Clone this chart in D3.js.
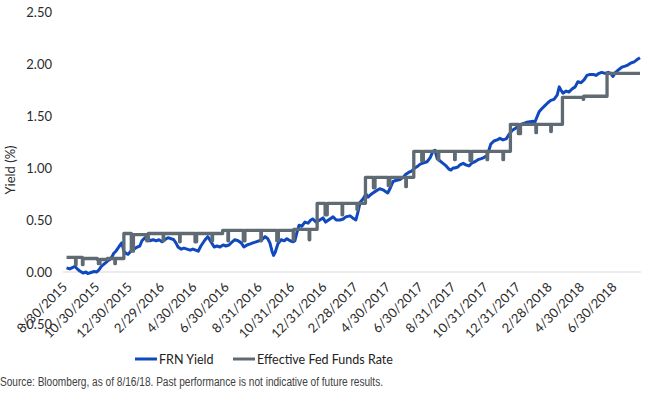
<!DOCTYPE html>
<html><head><meta charset="utf-8">
<script src="https://cdn.jsdelivr.net/npm/d3@7"></script>
<style>body{margin:0;background:#fff} svg{display:block}</style>
</head><body><svg id="c" width="645" height="401"></svg>
<script>
const frnDates = ["2015-08-31","2015-09-06","2015-09-12","2015-09-16","2015-09-20","2015-09-25","2015-10-01","2015-10-07","2015-10-10","2015-10-16","2015-10-22","2015-10-27","2015-10-31","2015-11-04","2015-11-08","2015-11-13","2015-11-17","2015-11-21","2015-11-25","2015-11-28","2015-12-02","2015-12-06","2015-12-10","2015-12-13","2015-12-17","2015-12-21","2015-12-25","2015-12-30","2016-01-05","2016-01-11","2016-01-16","2016-01-20","2016-01-26","2016-01-30","2016-02-04","2016-02-10","2016-02-16","2016-02-21","2016-02-27","2016-03-03","2016-03-09","2016-03-15","2016-03-20","2016-03-24","2016-03-28","2016-04-03","2016-04-08","2016-04-14","2016-04-20","2016-04-25","2016-04-30","2016-05-05","2016-05-10","2016-05-18","2016-05-23","2016-05-29","2016-06-04","2016-06-09","2016-06-15","2016-06-21","2016-06-26","2016-07-02","2016-07-08","2016-07-13","2016-07-19","2016-07-25","2016-07-30","2016-08-05","2016-08-11","2016-08-16","2016-08-22","2016-08-28","2016-09-02","2016-09-08","2016-09-13","2016-09-17","2016-09-21","2016-09-24","2016-09-27","2016-10-02","2016-10-08","2016-10-14","2016-10-19","2016-10-25","2016-10-31","2016-11-03","2016-11-07","2016-11-11","2016-11-16","2016-11-22","2016-11-28","2016-12-03","2016-12-07","2016-12-13","2016-12-20","2016-12-26","2016-12-31","2017-01-08","2017-01-14","2017-01-20","2017-01-27","2017-02-02","2017-02-07","2017-02-15","2017-02-20","2017-02-26","2017-03-02","2017-03-06","2017-03-11","2017-03-17","2017-03-21","2017-03-25","2017-03-30","2017-04-05","2017-04-12","2017-04-18","2017-04-24","2017-04-27","2017-05-01","2017-05-07","2017-05-12","2017-05-20","2017-05-26","2017-05-31","2017-06-06","2017-06-11","2017-06-17","2017-06-23","2017-06-28","2017-07-04","2017-07-10","2017-07-16","2017-07-21","2017-07-25","2017-07-29","2017-08-03","2017-08-09","2017-08-15","2017-08-20","2017-08-24","2017-08-28","2017-08-31","2017-09-06","2017-09-10","2017-09-16","2017-09-21","2017-09-27","2017-10-03","2017-10-08","2017-10-14","2017-10-20","2017-10-25","2017-10-31","2017-11-04","2017-11-07","2017-11-13","2017-11-19","2017-11-24","2017-11-30","2017-12-06","2017-12-11","2017-12-17","2017-12-23","2017-12-28","2018-01-03","2018-01-09","2018-01-14","2018-01-20","2018-01-26","2018-01-29","2018-02-02","2018-02-06","2018-02-11","2018-02-17","2018-02-23","2018-02-28","2018-03-06","2018-03-12","2018-03-16","2018-03-19","2018-03-23","2018-03-29","2018-04-03","2018-04-09","2018-04-15","2018-04-20","2018-04-26","2018-05-02","2018-05-07","2018-05-13","2018-05-19","2018-05-24","2018-05-30","2018-06-04","2018-06-10","2018-06-16","2018-06-21","2018-06-25","2018-06-30","2018-07-07","2018-07-12","2018-07-18","2018-07-23","2018-07-29","2018-08-04","2018-08-09","2018-08-15"];
const frnValues = [0.04,0.03,0.045,0.055,0.03,0.01,-0.01,0.0,-0.015,-0.005,0.005,0.0,0.02,0.05,0.07,0.09,0.11,0.12,0.15,0.18,0.2,0.23,0.26,0.28,0.2,0.18,0.17,0.2,0.22,0.24,0.25,0.3,0.33,0.34,0.3,0.31,0.3,0.31,0.29,0.31,0.33,0.32,0.31,0.28,0.24,0.22,0.23,0.22,0.21,0.22,0.21,0.2,0.25,0.31,0.34,0.29,0.24,0.25,0.24,0.26,0.25,0.26,0.29,0.31,0.3,0.28,0.24,0.26,0.27,0.28,0.29,0.3,0.31,0.34,0.32,0.28,0.2,0.16,0.19,0.27,0.31,0.3,0.32,0.3,0.29,0.3,0.38,0.45,0.44,0.48,0.47,0.5,0.51,0.48,0.5,0.52,0.48,0.51,0.53,0.5,0.5,0.51,0.53,0.54,0.52,0.5,0.58,0.67,0.7,0.75,0.72,0.74,0.76,0.78,0.8,0.79,0.77,0.76,0.8,0.87,0.88,0.89,0.91,0.94,0.96,0.97,1.0,1.02,1.04,1.05,1.06,1.1,1.16,1.17,1.09,1.07,1.045,1.02,0.99,0.98,1.0,1.0,1.01,1.03,1.045,1.03,1.02,1.05,1.06,1.08,1.09,1.1,1.12,1.18,1.23,1.26,1.27,1.285,1.27,1.28,1.32,1.36,1.38,1.4,1.42,1.43,1.44,1.445,1.45,1.44,1.49,1.54,1.57,1.6,1.63,1.65,1.66,1.7,1.78,1.75,1.72,1.74,1.73,1.76,1.78,1.83,1.82,1.85,1.89,1.9,1.9,1.89,1.91,1.92,1.91,1.92,1.91,1.88,1.92,1.95,1.97,1.98,1.99,2.01,2.02,2.04,2.06];

const effrDates = ["2015-08-31","2015-09-17","2015-09-18","2015-09-30","2015-10-01","2015-10-28","2015-10-30","2015-11-02","2015-11-16","2015-11-30","2015-12-01","2015-12-17","2015-12-31","2016-01-04","2016-01-29","2016-02-01","2016-02-29","2016-03-01","2016-03-31","2016-04-01","2016-04-29","2016-05-02","2016-05-31","2016-06-01","2016-06-20","2016-06-30","2016-07-01","2016-07-29","2016-08-01","2016-08-31","2016-09-01","2016-09-30","2016-10-03","2016-10-31","2016-11-01","2016-11-30","2016-12-01","2016-12-15","2016-12-30","2017-01-03","2017-01-31","2017-02-01","2017-02-28","2017-03-01","2017-03-16","2017-03-31","2017-04-03","2017-04-28","2017-05-01","2017-05-31","2017-06-01","2017-06-15","2017-06-30","2017-07-03","2017-07-31","2017-08-01","2017-08-31","2017-09-01","2017-09-29","2017-10-02","2017-10-31","2017-11-01","2017-11-30","2017-12-01","2017-12-14","2017-12-29","2018-01-02","2018-01-31","2018-02-01","2018-02-28","2018-03-01","2018-03-22","2018-04-30","2018-05-01","2018-06-14","2018-08-15"];
const effrValues = [0.14,0.07,0.14,0.07,0.13,0.12,0.08,0.12,0.13,0.08,0.13,0.37,0.2,0.36,0.3,0.37,0.3,0.37,0.29,0.37,0.29,0.37,0.3,0.37,0.4,0.3,0.4,0.3,0.4,0.3,0.4,0.3,0.4,0.31,0.41,0.31,0.41,0.66,0.55,0.66,0.55,0.66,0.6,0.66,0.91,0.81,0.91,0.83,0.91,0.82,0.91,1.16,1.07,1.16,1.08,1.16,1.08,1.16,1.07,1.16,1.08,1.16,1.08,1.16,1.42,1.33,1.42,1.34,1.42,1.35,1.42,1.68,1.66,1.69,1.91,1.91];

const xTickDates = ["2015-08-30","2015-10-30","2015-12-30","2016-02-29","2016-04-30","2016-06-30","2016-08-31","2016-10-31","2016-12-31","2017-02-28","2017-04-30","2017-06-30","2017-08-31","2017-10-31","2017-12-31","2018-02-28","2018-04-30","2018-06-30"];
const xTickLabels = ["8/30/2015","10/30/2015","12/30/2015","2/29/2016","4/30/2016","6/30/2016","8/31/2016","10/31/2016","12/31/2016","2/28/2017","4/30/2017","6/30/2017","8/31/2017","10/31/2017","12/31/2017","2/28/2018","4/30/2018","6/30/2018"];
const yTicks = [-0.5, 0, 0.5, 1, 1.5, 2, 2.5];
const seriesNames = ["FRN Yield", "Effective Fed Funds Rate"];
const seriesColors = ["#1049bd", "#5f6a72"];
const yTitle = "Yield (%)";
const sourceNote = "Source: Bloomberg, as of 8/16/18. Past performance is not indicative of future results.";

const parse = d3.utcParse("%Y-%m-%d");
const frn = frnDates.map((d, i) => ({date: parse(d), v: frnValues[i]}));
const effr = effrDates.map((d, i) => ({date: parse(d), v: effrValues[i]}));

const svg = d3.select("#c");
const font = "Lato, 'Open Sans', sans-serif";
const textCol = "#2b2b2b";

const x = d3.scaleUtc().domain([parse("2015-08-30"), parse("2018-08-16")]).range([66, 640.5]);
const y = d3.scaleLinear().domain([-0.5, 2.5]).range([324, 12]);

// zero gridline / category axis line
svg.append("line").attr("x1", 63).attr("x2", 641).attr("y1", y(0)).attr("y2", y(0))
  .attr("stroke", "#d9d9d9").attr("stroke-width", 1);

// y axis labels
const yAxis = d3.axisLeft(y).tickValues(yTicks).tickSize(0).tickPadding(0)
  .tickFormat(d3.format(".2f"));
const gy = svg.append("g").attr("transform", "translate(52,0)").call(yAxis);
gy.select(".domain").remove();
gy.selectAll("text").attr("font-family", font).attr("font-size", 13).attr("fill", textCol).attr("dy", "0.36em");

// x tick labels (rotated)
const tickDates = xTickDates.map(parse);
svg.append("g").selectAll("text").data(tickDates).join("text")
  .attr("transform", d => `translate(${x(d) + 2},${288}) rotate(-45)`)
  .attr("text-anchor", "end")
  .attr("font-family", font).attr("font-size", 13).attr("fill", textCol)
  .text((d, i) => xTickLabels[i]);

// y title
svg.append("text").attr("transform", "translate(15,170) rotate(-90)")
  .attr("text-anchor", "middle").attr("font-family", font).attr("font-size", 13).attr("fill", textCol)
  .text(yTitle);

// lines
const lineFrn = d3.line().x(d => x(d.date)).y(d => y(d.v)).curve(d3.curveLinear);
const lineEffr = d3.line().x(d => x(d.date)).y(d => y(d.v)).curve(d3.curveStepAfter);
svg.append("path").datum(frn).attr("d", lineFrn).attr("fill", "none")
  .attr("stroke", seriesColors[0]).attr("stroke-width", 3).attr("stroke-linejoin", "round");
svg.append("path").datum(effr).attr("d", lineEffr).attr("fill", "none")
  .attr("stroke", seriesColors[1]).attr("stroke-width", 3.3).attr("stroke-linejoin", "round");

// legend
const legX = [135, 233];
const leg = svg.append("g");
seriesNames.forEach((n, i) => {
  leg.append("line").attr("x1", legX[i]).attr("x2", legX[i] + 22).attr("y1", 359).attr("y2", 359)
    .attr("stroke", seriesColors[i]).attr("stroke-width", 3);
  leg.append("text").attr("x", legX[i] + 24).attr("y", 363.5)
    .attr("font-family", font).attr("font-size", 12.5).attr("fill", "#222").text(n);
});

// source
svg.append("text").attr("x", 0).attr("y", 386)
  .attr("font-family", "'Liberation Sans Narrow', 'Arial Narrow', 'Liberation Sans', sans-serif")
  .attr("font-size", 12.5).attr("fill", "#404040")
  .attr("textLength", 383).attr("lengthAdjust", "spacingAndGlyphs")
  .text(sourceNote);
</script></body></html>
